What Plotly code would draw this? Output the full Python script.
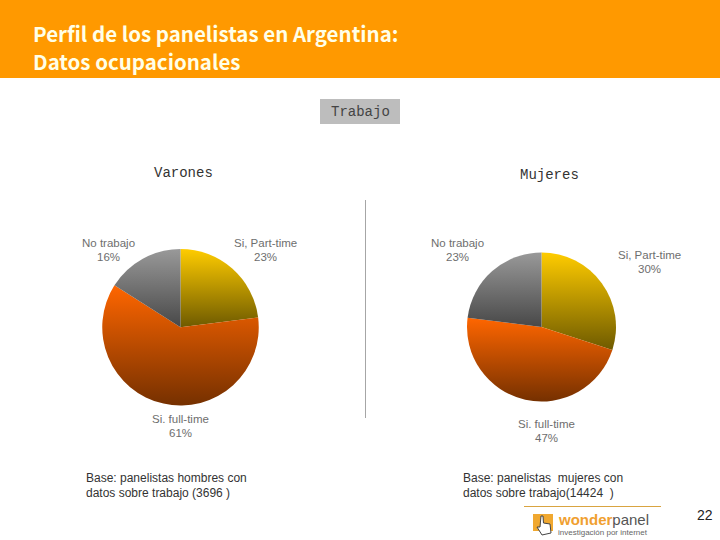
import plotly.graph_objects as go

W, H = 720, 540
categories = ["Si, Part-time", "Si, full-time", "No trabajo"]
varones = [23, 61, 16]
mujeres = [30, 47, 23]
top_colors = ["#FFCC00", "#FF6600", "#999999"]
bottom_colors = ["#6E5A00", "#753000", "#484848"]
title_lines = ["Perfil de los panelistas en Argentina:", "Datos ocupacionales"]
base_v = ["Base: panelistas hombres con", "datos sobre trabajo (3696 )"]
base_m = ["Base: panelistas  mujeres con", "datos sobre trabajo(14424  )"]

def px(x): return x / W
def py(y): return 1 - y / H

fig = go.Figure()
for vals, (x0, x1, y0, y1), name in [
    (varones, (102, 259, 249, 405.5), "Varones"),
    (mujeres, (467, 616, 252, 402), "Mujeres"),
]:
    fig.add_trace(go.Pie(
        labels=categories, values=vals, name=name, sort=False, direction="clockwise",
        rotation=0, textinfo="none", hoverinfo="label+percent", showlegend=False,
        marker=dict(colors=top_colors, line=dict(width=0)),
        domain=dict(x=[px(x0), px(x1)], y=[py(y1), py(y0)]),
    ))

hand = [(541, 516), (543, 516), (543.5, 523), (550, 524), (551, 533), (542, 535), (537, 527), (540, 527)]
hand_path = "M " + " L ".join(f"{px(x):.5f},{py(y):.5f}" for x, y in hand) + " Z"

shapes = [
    dict(type="rect", xref="paper", yref="paper", x0=0, x1=1, y0=py(78), y1=1,
         fillcolor="#FF9900", line_width=0, layer="below"),
    dict(type="rect", xref="paper", yref="paper", x0=px(320), x1=px(400), y0=py(124), y1=py(99),
         fillcolor="#BDBDBD", line_width=0, layer="below"),
    dict(type="line", xref="paper", yref="paper", x0=px(365.5), x1=px(365.5), y0=py(418), y1=py(200),
         line=dict(color="#A6A6A6", width=1)),
    dict(type="line", xref="paper", yref="paper", x0=px(524), x1=px(661), y0=py(506.5), y1=py(506.5),
         line=dict(color="#D9A441", width=1)),
    dict(type="rect", xref="paper", yref="paper", x0=px(533), x1=px(553), y0=py(531), y1=py(514),
         fillcolor="#F0A830", line_width=0),
    dict(type="path", xref="paper", yref="paper", path=hand_path, fillcolor="white",
         line=dict(color="#444444", width=1)),
]

anns = []
def text(x, y, s, size, color, font, anchor="left", bold=False):
    anns.append(dict(xref="paper", yref="paper", x=px(x), y=py(y), text=f"<b>{s}</b>" if bold else s,
                     showarrow=False, xanchor=anchor, yanchor="middle", borderpad=0,
                     font=dict(size=size, color=color, family=font), align=anchor))

GOTHIC = "Noto Sans CJK JP"
SANS = "Liberation Sans"
MONO = "Liberation Mono"
text(32, 32.5, title_lines[0], 20.5, "#FFFFE8", GOTHIC, bold=True)
text(32, 61, title_lines[1], 20.5, "#FFFFE8", GOTHIC, bold=True)
text(360.5, 112, "Trabajo", 14, "#444444", MONO, "center")
text(183, 173, "Varones", 14, "#333333", MONO, "center")
text(549.5, 175, "Mujeres", 14, "#333333", MONO, "center")

lab = "#6E6E6E"
pos_v = [(265.5, 250), (180, 426), (108, 250)]
pos_m = [(649, 262), (546, 431), (457.5, 250)]
for vals, pos in ((varones, pos_v), (mujeres, pos_m)):
    for c, v, (x, y) in zip(categories, vals, pos):
        name = c.replace("Si, full", "Si. full")
        text(x, y - 7, name, 11.5, lab, SANS, "center")
        text(x, y + 7, f"{v}%", 11.5, lab, SANS, "center")

text(85, 478, base_v[0], 12, "#333333", SANS)
text(85, 493, base_v[1], 12, "#333333", SANS)
text(462, 478, base_m[0], 12, "#333333", SANS)
text(462, 493, base_m[1], 12, "#333333", SANS)
text(705, 515, "22", 14, "#222222", SANS, "center")
anns.append(dict(xref="paper", yref="paper", x=px(556), y=py(519), showarrow=False, xanchor="left", yanchor="middle",
                 text="<span style='color:#F0A030'><b>wonder</b></span><span style='color:#555555'>panel</span>",
                 font=dict(size=15, family=SANS)))
text(557, 532.5, "investigación por internet", 8, "#666666", SANS)

fig.update_layout(width=W, height=H, margin=dict(l=0, r=0, t=0, b=0), autosize=False,
                  paper_bgcolor="white", plot_bgcolor="white", shapes=shapes, annotations=anns)

# Per-slice vertical gradient (top colour -> bottom colour) on the slices Plotly draws.
stops = list(zip(top_colors, bottom_colors))
post = """
document.documentElement.style.margin = '0';
document.body.style.margin = '0';
document.body.style.overflow = 'hidden';
var gd = document.getElementById('{plot_id}');
var stops = %s;
var NS = 'http://www.w3.org/2000/svg';
var svg = gd.querySelector('svg.main-svg');
var defs = document.createElementNS(NS, 'defs');
stops.forEach(function(s, i) {
  var g = document.createElementNS(NS, 'linearGradient');
  g.setAttribute('id', 'slicegrad' + i);
  g.setAttribute('x1', '0'); g.setAttribute('y1', '0'); g.setAttribute('x2', '0'); g.setAttribute('y2', '1');
  [[0, s[0]], [1, s[1]]].forEach(function(p) {
    var st = document.createElementNS(NS, 'stop');
    st.setAttribute('offset', p[0]); st.setAttribute('stop-color', p[1]);
    g.appendChild(st);
  });
  defs.appendChild(g);
});
svg.appendChild(defs);
gd.querySelectorAll('.trace').forEach(function(t) {
  t.querySelectorAll('.slice path.surface').forEach(function(p, i) {
    p.style.setProperty('fill', 'url(#slicegrad' + i + ')');
  });
});
""" % ([list(s) for s in stops])

fig.write_html("out.html", post_script=post, config={"displayModeBar": False})
